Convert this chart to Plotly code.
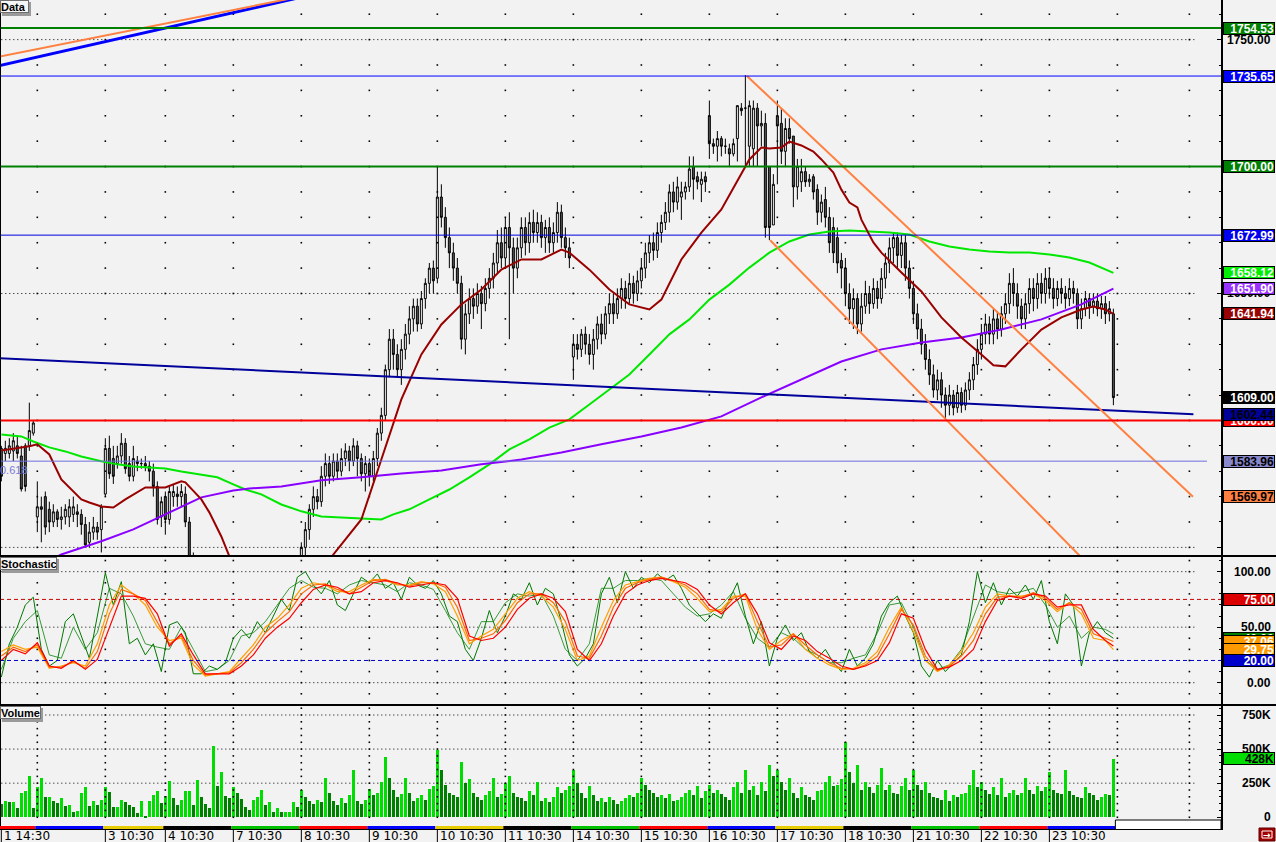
import plotly.graph_objects as go

W, H = 1276, 842
XD = 1221 / W
FONT = 'Liberation Sans, Arial, sans-serif'
BG = '#f2f2f2'

# ---------------- price data (one list per field, one row per trading day) ----------------
opens = [
    1589, 1587, 1587, 1588, 1590, 1586, 1590, 1590, 1595,
    1562, 1566, 1570, 1565, 1560, 1564, 1561, 1562, 1562, 1563, 1564, 1563, 1559, 1552, 1556, 1558, 1557,
    1571, 1589, 1585, 1583, 1586, 1591, 1583, 1578, 1584, 1583, 1583, 1582, 1580, 1574, 1562,
    1570, 1561, 1570, 1571, 1570, 1571, 1560, 1546, 1544, 1540, 1536, 1532, 1530, 1528, 1532, 1530, 1526,
    1524, 1528, 1530, 1534, 1532, 1536, 1530, 1528, 1532, 1536, 1540, 1538, 1534, 1530, 1534, 1538, 1540,
    1544, 1550, 1557, 1565, 1570, 1568, 1578, 1583, 1578, 1584, 1580, 1585, 1588, 1584, 1590, 1585, 1579,
    1583, 1578, 1585, 1595, 1602, 1620, 1632, 1626, 1620, 1628, 1634, 1640, 1645, 1638, 1648, 1654, 1660,
    1656, 1688, 1680, 1672, 1666, 1660, 1654, 1632, 1642, 1648, 1645, 1650, 1646, 1652, 1656, 1662, 1670,
    1664, 1676, 1668, 1660, 1668, 1676, 1670, 1678, 1674, 1678, 1672, 1676, 1670, 1674, 1682, 1672, 1668,
    1625, 1630, 1628, 1634, 1630, 1626, 1632, 1638, 1634, 1642, 1646, 1642, 1648, 1652, 1648, 1654, 1650,
    1655, 1660, 1666, 1670, 1667, 1674, 1678, 1682, 1690, 1686, 1688, 1690, 1692, 1700, 1696, 1693, 1696,
    1720, 1709, 1708, 1711, 1708, 1707, 1705, 1711, 1723, 1723, 1708, 1707, 1723, 1716, 1717, 1700, 1677,
    1720, 1717, 1706, 1715, 1712, 1692, 1694, 1698, 1694, 1696, 1691, 1682, 1687, 1680, 1676, 1672, 1663,
    1660, 1650, 1644, 1648, 1638, 1645, 1650, 1646, 1652, 1648, 1656, 1662, 1668, 1672, 1665, 1670, 1660,
    1652, 1642, 1636, 1630, 1624, 1618, 1612, 1616, 1610, 1606, 1610, 1605, 1611, 1606, 1612, 1616, 1622,
    1628, 1634, 1638, 1634, 1640, 1636, 1642, 1646, 1654, 1650, 1645, 1640, 1646, 1652, 1648, 1654, 1650,
    1656, 1652, 1648, 1652, 1650, 1648, 1652, 1650, 1640, 1644, 1648, 1645, 1647, 1644, 1646, 1642, 1642,
]
highs = [
    1590, 1592, 1593, 1595, 1594, 1590, 1591, 1607, 1600,
    1576, 1570, 1572, 1568, 1567, 1565, 1566, 1567, 1569, 1570, 1567, 1565, 1562, 1560, 1562, 1560, 1567,
    1593, 1594, 1590, 1590, 1595, 1593, 1586, 1590, 1586, 1585, 1586, 1584, 1583, 1576, 1570,
    1572, 1574, 1575, 1574, 1575, 1574, 1562, 1548, 1546, 1542, 1539, 1535, 1534, 1535, 1534, 1532, 1528,
    1531, 1533, 1537, 1536, 1539, 1538, 1532, 1535, 1539, 1543, 1542, 1540, 1536, 1537, 1540, 1543, 1546,
    1552, 1560, 1567, 1574, 1573, 1582, 1587, 1586, 1587, 1587, 1589, 1591, 1590, 1593, 1592, 1587, 1586,
    1585, 1588, 1597, 1605, 1622, 1636, 1636, 1630, 1632, 1638, 1645, 1648, 1648, 1651, 1656, 1662, 1663,
    1700, 1693, 1684, 1676, 1670, 1664, 1657, 1646, 1652, 1652, 1654, 1653, 1656, 1660, 1666, 1675, 1676,
    1680, 1682, 1672, 1672, 1680, 1680, 1682, 1683, 1682, 1681, 1679, 1680, 1678, 1686, 1685, 1676, 1672,
    1634, 1634, 1636, 1637, 1634, 1636, 1641, 1642, 1645, 1650, 1650, 1652, 1656, 1655, 1658, 1657, 1659,
    1664, 1670, 1673, 1674, 1678, 1681, 1686, 1693, 1694, 1696, 1694, 1694, 1704, 1704, 1698, 1698, 1698,
    1726, 1711, 1714, 1712, 1711, 1709, 1711, 1724, 1725, 1736, 1726, 1726, 1725, 1722, 1721, 1700, 1697,
    1726, 1723, 1719, 1719, 1712, 1703, 1703, 1700, 1697, 1697, 1693, 1689, 1692, 1684, 1680, 1676, 1666,
    1664, 1654, 1652, 1650, 1650, 1655, 1653, 1656, 1655, 1660, 1666, 1672, 1674, 1674, 1673, 1673, 1663,
    1655, 1646, 1640, 1634, 1628, 1622, 1620, 1619, 1613, 1614, 1612, 1614, 1613, 1615, 1619, 1625, 1632,
    1638, 1642, 1641, 1644, 1643, 1645, 1650, 1658, 1660, 1654, 1648, 1650, 1656, 1656, 1658, 1658, 1660,
    1660, 1656, 1655, 1656, 1653, 1656, 1655, 1652, 1648, 1651, 1650, 1650, 1650, 1649, 1649, 1647, 1644,
]
lows = [
    1576, 1584, 1585, 1584, 1585, 1572, 1572, 1588, 1594,
    1556, 1552, 1555, 1556, 1558, 1558, 1557, 1559, 1558, 1560, 1558, 1555, 1550, 1550, 1553, 1553, 1548,
    1570, 1577, 1575, 1581, 1583, 1579, 1576, 1576, 1580, 1581, 1580, 1576, 1570, 1559, 1558,
    1555, 1559, 1566, 1566, 1566, 1558, 1540, 1538, 1536, 1533, 1529, 1527, 1522, 1525, 1527, 1523, 1520,
    1522, 1525, 1528, 1529, 1530, 1528, 1525, 1526, 1530, 1534, 1535, 1532, 1528, 1528, 1532, 1536, 1538,
    1540, 1542, 1553, 1562, 1565, 1566, 1574, 1575, 1576, 1577, 1578, 1582, 1580, 1582, 1578, 1576, 1572,
    1574, 1576, 1582, 1592, 1600, 1617, 1620, 1617, 1614, 1624, 1630, 1635, 1635, 1636, 1644, 1650, 1650,
    1654, 1676, 1668, 1660, 1655, 1650, 1628, 1626, 1638, 1640, 1642, 1636, 1643, 1648, 1652, 1658, 1660,
    1660, 1632, 1650, 1656, 1664, 1665, 1666, 1670, 1670, 1668, 1666, 1666, 1666, 1670, 1668, 1664, 1660,
    1616, 1624, 1625, 1626, 1622, 1620, 1628, 1630, 1632, 1638, 1638, 1640, 1644, 1644, 1646, 1646, 1647,
    1652, 1656, 1662, 1663, 1664, 1670, 1675, 1678, 1682, 1683, 1679, 1687, 1690, 1687, 1691, 1686, 1690,
    1703, 1705, 1702, 1704, 1705, 1700, 1704, 1702, 1720, 1700, 1700, 1700, 1700, 1708, 1672, 1671, 1677,
    1693, 1701, 1700, 1709, 1684, 1687, 1690, 1692, 1692, 1687, 1677, 1678, 1676, 1666, 1662, 1658, 1652,
    1645, 1638, 1636, 1634, 1635, 1642, 1642, 1644, 1644, 1646, 1652, 1658, 1662, 1660, 1660, 1655, 1648,
    1638, 1632, 1626, 1620, 1614, 1609, 1608, 1605, 1601, 1602, 1602, 1603, 1603, 1604, 1608, 1612, 1618,
    1624, 1630, 1630, 1630, 1632, 1633, 1638, 1642, 1645, 1640, 1636, 1636, 1642, 1643, 1644, 1646, 1646,
    1648, 1644, 1645, 1646, 1644, 1645, 1646, 1636, 1636, 1641, 1640, 1642, 1641, 1640, 1638, 1639, 1606,
]
closes = [
    1578, 1589, 1590, 1592, 1587, 1573, 1574, 1596, 1599,
    1566, 1565, 1558, 1560, 1564, 1561, 1562, 1565, 1566, 1566, 1563, 1559, 1551, 1556, 1558, 1556, 1566,
    1589, 1579, 1578, 1586, 1591, 1581, 1578, 1585, 1583, 1583, 1582, 1580, 1574, 1561, 1568,
    1561, 1572, 1572, 1570, 1572, 1560, 1546, 1544, 1540, 1536, 1532, 1530, 1528, 1532, 1530, 1526, 1524,
    1528, 1530, 1534, 1532, 1536, 1530, 1528, 1532, 1536, 1540, 1538, 1534, 1530, 1534, 1538, 1540, 1544,
    1550, 1557, 1565, 1570, 1568, 1578, 1583, 1578, 1584, 1580, 1585, 1588, 1584, 1590, 1585, 1579, 1583,
    1578, 1585, 1595, 1602, 1620, 1632, 1626, 1620, 1628, 1634, 1640, 1645, 1638, 1648, 1654, 1660, 1655,
    1688, 1680, 1672, 1666, 1660, 1654, 1632, 1642, 1648, 1645, 1650, 1646, 1652, 1656, 1662, 1670, 1664,
    1676, 1668, 1660, 1668, 1676, 1670, 1678, 1674, 1678, 1672, 1676, 1670, 1674, 1682, 1672, 1668, 1664,
    1630, 1628, 1634, 1630, 1626, 1632, 1638, 1634, 1642, 1646, 1642, 1648, 1652, 1648, 1654, 1650, 1655,
    1660, 1666, 1670, 1667, 1674, 1678, 1682, 1690, 1686, 1692, 1690, 1692, 1699, 1695, 1694, 1695, 1694,
    1709, 1708, 1711, 1708, 1708, 1705, 1709, 1724, 1722, 1723, 1724, 1723, 1716, 1717, 1676, 1676, 1693,
    1716, 1706, 1715, 1711, 1692, 1700, 1698, 1694, 1695, 1690, 1682, 1686, 1680, 1670, 1666, 1662, 1660,
    1650, 1644, 1648, 1638, 1645, 1650, 1646, 1652, 1648, 1656, 1662, 1668, 1672, 1665, 1670, 1660, 1652,
    1642, 1636, 1630, 1624, 1618, 1612, 1616, 1610, 1606, 1610, 1605, 1611, 1606, 1612, 1616, 1622, 1628,
    1634, 1638, 1634, 1640, 1636, 1642, 1646, 1654, 1650, 1645, 1640, 1646, 1652, 1648, 1654, 1650, 1656,
    1652, 1648, 1652, 1650, 1648, 1652, 1650, 1640, 1644, 1648, 1645, 1647, 1644, 1646, 1642, 1644, 1609,
]
volumes_k = [
    98, 118, 110, 115, 66, 176, 196, 306, 66,
    220, 287, 152, 152, 122, 103, 140, 81, 88, 37, 49, 176, 220, 86, 118, 88, 130,
    220, 184, 74, 74, 130, 110, 91, 74, 29, 118, 7, 122, 167, 196, 103,
    154, 265, 140, 93, 130, 196, 196, 93, 270, 147, 98, 69, 522, 233, 331, 159, 140,
    225, 176, 135, 78, 56, 130, 152, 203, 93, 110, 42, 66, 37, 42, 42, 115, 78,
    200, 150, 120, 95, 130, 110, 287, 180, 120, 90, 140, 105, 160, 345, 120, 95, 130,
    210, 160, 180, 260, 441, 287, 200, 150, 170, 287, 180, 120, 140, 160, 130, 210, 230,
    493, 345, 240, 180, 160, 150, 404, 250, 280, 180, 150, 130, 160, 190, 287, 150, 170,
    250, 300, 180, 150, 140, 120, 190, 160, 260, 120, 140, 110, 150, 220, 180, 200, 230,
    345, 250, 180, 140, 230, 160, 120, 140, 110, 150, 130, 100, 120, 140, 160, 150, 180,
    287, 240, 200, 180, 150, 160, 140, 170, 120, 130, 150, 180, 200, 160, 230, 140, 190,
    240, 180, 200, 170, 150, 130, 220, 260, 180, 345, 200, 230, 160, 260, 190, 382, 300,
    345, 260, 200, 287, 180, 140, 220, 160, 150, 130, 190, 200, 260, 300, 230, 240, 280,
    551, 330, 250, 382, 200, 260, 220, 180, 240, 360, 200, 240, 180, 170, 230, 287, 200,
    345, 240, 200, 260, 180, 150, 140, 130, 200, 120, 160, 150, 170, 180, 240, 345, 220,
    260, 200, 170, 220, 160, 287, 150, 180, 200, 160, 180, 287, 200, 170, 230, 190, 220,
    330, 200, 180, 170, 345, 190, 160, 150, 140, 220, 180, 160, 130, 150, 170, 160, 428,
]

# session starts (bar index) and their axis labels
day_start = [0, 9, 26, 41, 58, 75, 92, 109, 126, 143, 160, 177, 194, 211, 228, 245, 262]
day_labels = ['1 14:30', '', '3 10:30', '4 10:30', '7 10:30', '8 10:30', '9 10:30', '10 10:30',
              '11 10:30', '14 10:30', '15 10:30', '16 10:30', '17 10:30', '18 10:30', '21 10:30',
              '22 10:30', '23 10:30']
grid_cols = [9, 26, 41, 58, 75, 92, 109, 126, 143, 160, 177, 194, 211, 228, 245, 262, 279, 297]

# moving averages (bar index, value)
ma_red_idx = [0, 7, 9, 12, 15, 20, 22, 25, 28, 31, 36, 41, 45, 46, 50, 52, 55, 57, 60, 65,
              72, 78, 83, 90, 95, 100, 105, 110, 115, 120, 125, 130, 135, 140, 142, 147, 152, 157, 162, 165,
              170, 175, 180, 185, 187, 190, 192, 195, 197, 200, 203, 205, 208, 210, 212, 214, 215, 218, 220, 225,
              230, 235, 240, 245, 248, 251, 255, 260, 265, 270, 273, 276, 278]
ma_red_val = [1588.2, 1589.8, 1590.6, 1586.6, 1576.8, 1568.9, 1567.7, 1566.1, 1565.7, 1568.9,
              1573.6, 1573.6, 1576.0, 1575.6, 1568.9, 1563.8, 1554.3, 1546.5, 1537, 1530,
              1527, 1533, 1547.2, 1561, 1584.6, 1608.3, 1626, 1637.8, 1645.7, 1651.6,
              1659.4, 1663.4, 1663.4, 1667.3, 1666.1, 1659.4, 1651.6, 1645.7, 1643.7, 1647.6,
              1663.4, 1674.0, 1683.1, 1697.6, 1702.8, 1707.5, 1707.1, 1707.5, 1709.8, 1708.3,
              1705.9, 1702.8, 1697.6, 1690.9, 1685.8, 1683.9, 1679.1, 1670.1, 1666.1, 1658.3,
              1650.8, 1640.6, 1632.7, 1626, 1621.7, 1621.3, 1628, 1635.8, 1640.6, 1643.7,
              1644.9, 1643.7, 1641.94]
ma_green_idx = [0, 5, 8, 12, 16, 20, 25, 29, 33, 37, 41, 45, 50, 54, 58, 61, 65, 70, 75, 80,
                85, 90, 95, 98, 102, 107, 112, 117, 122, 127, 132, 137, 142, 147, 152, 157, 162, 167, 172, 177,
                182, 187, 192, 197, 202, 207, 212, 217, 222, 227, 232, 237, 242, 247, 252, 257, 262, 267, 272, 278]
ma_green_val = [1594.5, 1593.7, 1591.7, 1589.4, 1587.8, 1585.8, 1583.9, 1582.7, 1581.9, 1581.5,
                1581.1, 1579.9, 1578.7, 1577.6, 1574.8, 1572.8, 1570.9, 1566.9, 1564.2, 1562.2,
                1561.8, 1561.4, 1561, 1563, 1565, 1568.9, 1572.8, 1577.6, 1582.7, 1588.6,
                1592.5, 1597.2, 1600.4, 1606.3, 1612.2, 1618.1, 1626, 1633.9, 1639.8, 1647.6,
                1653.5, 1660.2, 1666.1, 1670.5, 1673.2, 1674.4, 1674.8, 1674.4, 1674.0, 1673.2,
                1670.5, 1668.5, 1667.3, 1666.5, 1666.1, 1666.1, 1665.4, 1664.2, 1662.2, 1658.12]
ma_purple_idx = [10, 15, 25, 33, 41, 50, 58, 62, 70, 80, 90, 100, 110, 120, 130, 140, 150, 160, 170, 180,
                 190, 200, 210, 220, 230, 240, 250, 260, 270, 278]
ma_purple_val = [1543.3, 1547.2, 1552.4, 1557.1, 1563, 1569.7, 1572.4, 1573.2, 1574, 1576.4,
                 1577.6, 1579.1, 1580.3, 1582.7, 1584.6, 1587.4, 1590.6, 1593.7, 1597.2, 1601.6,
                 1609.1, 1616.1, 1623.2, 1628, 1630.7, 1632.7, 1635.8, 1639.8, 1645.7, 1651.90]

# drawn trend lines: (bar index pair, price pair)
tl_base_idx, tl_base_val = [-1, 298], [1624.5, 1602.44]
tl_chan_hi_idx, tl_chan_hi_val = [186.4, 297.9], [1735.65, 1569.97]
tl_chan_lo_idx, tl_chan_lo_val = [192.2, 272], [1671.0, 1542.8]
tl_old_blue_idx, tl_old_blue_val = [-1, 80], [1739.55, 1768.5]
tl_old_orange_idx, tl_old_orange_val = [-1, 80], [1743.1, 1768.6]
fib_level = 1583.96
h_levels = [1754.53, 1735.65, 1700.00, 1672.99, 1600.00]

# stochastic (sampled)
stoch_fast = [5, 35, 50, 70, 77, 30, 15, 20, 55, 62,
              42, 22, 60, 99, 70, 91, 35, 40, 25, 35,
              10, 52, 55, 45, 8, 8, 15, 12, 18, 40,
              48, 40, 55, 45, 60, 75, 65, 95, 100, 88,
              80, 92, 70, 65, 80, 95, 90, 98, 85, 90,
              75, 95, 88, 85, 92, 80, 60, 55, 30, 20,
              40, 65, 45, 60, 80, 75, 90, 70, 85, 80,
              55, 25, 15, 22, 35, 80, 95, 72, 100, 85,
              95, 90, 98, 92, 97, 85, 70, 62, 55, 62,
              58, 75, 90, 60, 35, 55, 15, 40, 52, 38,
              45, 28, 22, 30, 18, 10, 30, 15, 22, 35,
              60, 72, 78, 60, 45, 15, 5, 20, 10, 18,
              25, 55, 100, 72, 90, 70, 85, 78, 88, 75,
              92, 55, 35, 80, 70, 15, 45, 55, 45, 40]
stoch_green2 = [12, 40, 55, 65, 25, 22, 50, 30, 45, 85, 80, 60, 35, 32, 30, 50, 30, 10, 12, 20,
                42, 45, 55, 70, 85, 92, 86, 85, 80, 88, 92, 90, 88, 82, 90, 88, 84, 65, 45, 30,
                55, 55, 72, 80, 78, 80, 60, 30, 20, 35, 85, 85, 92, 92, 94, 92, 80, 68, 60, 62,
                70, 82, 58, 40, 32, 45, 40, 30, 25, 18, 18, 22, 25, 45, 70, 72, 50, 20, 12, 16,
                30, 60, 88, 82, 80, 82, 85, 70, 50, 60, 40, 50, 48, 44]
stoch_red = [20, 30, 26, 36, 15, 13, 20, 12, 21, 50, 78, 78, 76, 62, 33, 44, 25, 8, 8, 8,
             15, 25, 40, 50, 58, 72, 84, 88, 86, 80, 82, 90, 92, 90, 86, 88, 90, 88, 76, 42,
             38, 40, 50, 66, 76, 80, 76, 64, 30, 20, 35, 60, 80, 88, 92, 94, 92, 90, 84, 70,
             62, 72, 80, 62, 36, 30, 42, 38, 28, 22, 15, 12, 15, 20, 36, 62, 58, 30, 12, 14,
             20, 30, 55, 74, 78, 76, 80, 78, 68, 70, 70, 48, 38, 33]
stoch_orange = [24, 32, 28, 34, 14, 14, 19, 13, 28, 62, 84, 80, 74, 55, 35, 42, 20, 7, 8, 9,
                18, 30, 45, 55, 64, 80, 88, 89, 84, 80, 86, 92, 93, 89, 87, 90, 90, 86, 68, 38,
                40, 44, 56, 72, 80, 80, 72, 55, 24, 22, 42, 68, 85, 90, 93, 95, 92, 88, 80, 66,
                64, 76, 80, 55, 32, 34, 44, 34, 25, 18, 13, 12, 16, 24, 44, 66, 52, 24, 11, 15,
                24, 38, 62, 77, 78, 77, 81, 76, 66, 72, 66, 44, 40, 37.06]
stoch_gold = [28, 34, 30, 32, 13, 15, 18, 15, 35, 70, 88, 80, 70, 50, 38, 40, 16, 6, 8, 10,
              22, 34, 50, 58, 70, 85, 90, 88, 82, 82, 88, 93, 92, 88, 88, 91, 89, 82, 60, 35,
              42, 48, 62, 76, 82, 78, 68, 48, 20, 24, 50, 74, 88, 91, 94, 95, 91, 86, 76, 64,
              66, 78, 78, 48, 30, 38, 44, 30, 22, 16, 12, 13, 18, 28, 50, 68, 46, 20, 10, 16,
              28, 45, 68, 80, 78, 78, 80, 74, 64, 72, 62, 40, 38, 29.75]
stoch_levels = [75, 20]

N = len(closes)
bars = list(range(N))
fast_idx = list(range(0, N, 2))
slow_idx = list(range(0, N - 2, 3)) + [N - 1]

XR = [-0.33, 304.9]
PR = [1547.0, 1765.6]
SR = [-19.2, 113.2]
VR = [-64, 816]


def yp(px):
    return 1 - px / H


def xp(px):
    return px / W


fig = go.Figure()

# ---- dot grid columns ----
def dot_grid(levels, xa, ya):
    xs, ys = [], []
    for c in grid_cols:
        for lv in levels:
            xs.append(c)
            ys.append(lv)
    return go.Scatter(x=xs, y=ys, mode='markers', xaxis=xa, yaxis=ya, hoverinfo='skip',
                      marker=dict(symbol='square', size=1.6, color='black', line=dict(width=0)))


fig.add_trace(dot_grid(list(range(1550, 1770, 10)), 'x', 'y'))
fig.add_trace(dot_grid(list(range(-10, 111, 10)), 'x2', 'y2'))
fig.add_trace(dot_grid(list(range(0, 801, 50)), 'x3', 'y3'))

# ---- candles ----
fig.add_trace(go.Candlestick(
    x=bars, open=opens, high=highs, low=lows, close=closes, xaxis='x', yaxis='y',
    whiskerwidth=0,
    increasing=dict(line=dict(color='black', width=1), fillcolor='white'),
    decreasing=dict(line=dict(color='black', width=1), fillcolor='#585858'),
))

# ---- moving averages ----
fig.add_trace(go.Scatter(x=ma_green_idx, y=ma_green_val, mode='lines', xaxis='x', yaxis='y',
                         line=dict(color='#00e800', width=2)))
fig.add_trace(go.Scatter(x=ma_purple_idx, y=ma_purple_val, mode='lines', xaxis='x', yaxis='y',
                         line=dict(color='#8a00ff', width=2)))
fig.add_trace(go.Scatter(x=ma_red_idx, y=ma_red_val, mode='lines', xaxis='x', yaxis='y',
                         line=dict(color='#990000', width=2)))

# ---- trend lines ----
for xs, ys, col, wd in [
    (tl_base_idx, tl_base_val, '#00009a', 2),
    (tl_chan_hi_idx, tl_chan_hi_val, '#ff8040', 2),
    (tl_chan_lo_idx, tl_chan_lo_val, '#ff8040', 2),
    (tl_old_blue_idx, tl_old_blue_val, '#0000ff', 3),
    (tl_old_orange_idx, tl_old_orange_val, '#ff8040', 2),
]:
    fig.add_trace(go.Scatter(x=xs, y=ys, mode='lines', xaxis='x', yaxis='y',
                             line=dict(color=col, width=wd)))

# ---- stochastic ----
fig.add_trace(go.Scatter(x=slow_idx, y=stoch_green2, mode='lines', xaxis='x2', yaxis='y2',
                         line=dict(color='#3a9a3a', width=1)))
fig.add_trace(go.Scatter(x=fast_idx, y=stoch_fast, mode='lines', xaxis='x2', yaxis='y2',
                         line=dict(color='#007800', width=1)))
fig.add_trace(go.Scatter(x=slow_idx, y=stoch_gold, mode='lines', xaxis='x2', yaxis='y2',
                         line=dict(color='#ffa000', width=1.2)))
fig.add_trace(go.Scatter(x=slow_idx, y=stoch_orange, mode='lines', xaxis='x2', yaxis='y2',
                         line=dict(color='#ff6a00', width=1.2)))
fig.add_trace(go.Scatter(x=slow_idx, y=stoch_red, mode='lines', xaxis='x2', yaxis='y2',
                         line=dict(color='#ff0000', width=1.2)))

# ---- volume ----
vol_colors = ['#008000' if i == 0 or volumes_k[i] < volumes_k[i - 1] else '#00dd00' for i in bars]
fig.add_trace(go.Bar(x=bars, y=volumes_k, width=0.72, xaxis='x3', yaxis='y3',
                     marker=dict(color=vol_colors, line=dict(width=0))))

shapes = []
DOT = '1px,3px'
# dotted level lines
for lv in [1550, 1600, 1650, 1700, 1750]:
    shapes.append(dict(type='line', xref='x', yref='y', x0=-1, x1=298.4, y0=lv, y1=lv,
                       line=dict(color='black', width=1, dash=DOT), layer='below'))
for lv in [0, 50, 100]:
    shapes.append(dict(type='line', xref='x2', yref='y2', x0=-1, x1=298.4, y0=lv, y1=lv,
                       line=dict(color='black', width=1, dash=DOT), layer='below'))
for lv in [250, 500, 750]:
    shapes.append(dict(type='line', xref='x3', yref='y3', x0=-1, x1=298.4, y0=lv, y1=lv,
                       line=dict(color='black', width=1, dash=DOT), layer='below'))

# horizontal price levels
hl_style = ['#008000', '#0000ff', '#008000', '#0000dd', '#ff0000']
hl_width = [2, 1, 2, 1, 2]
for lv, c, wd in zip(h_levels, hl_style, hl_width):
    shapes.append(dict(type='line', xref='x domain', yref='y', x0=0, x1=1, y0=lv, y1=lv,
                       line=dict(color=c, width=wd)))
shapes.append(dict(type='line', xref='x', yref='y', x0=-1, x1=301.4, y0=fib_level, y1=fib_level,
                   line=dict(color='#7070dd', width=1)))
# stochastic levels
shapes.append(dict(type='line', xref='x2 domain', yref='y2', x0=0, x1=1, y0=stoch_levels[0], y1=stoch_levels[0],
                   line=dict(color='#cc0000', width=1, dash='4px,3px')))
shapes.append(dict(type='line', xref='x2 domain', yref='y2', x0=0, x1=1, y0=stoch_levels[1], y1=stoch_levels[1],
                   line=dict(color='#0000cc', width=1, dash='4px,3px')))

# panel frames
shapes += [
    dict(type='line', xref='paper', yref='paper', x0=0, x1=1, y0=yp(556), y1=yp(556), line=dict(color='black', width=2)),
    dict(type='line', xref='paper', yref='paper', x0=0, x1=1, y0=yp(705), y1=yp(705), line=dict(color='black', width=2)),
    dict(type='line', xref='paper', yref='paper', x0=0, x1=xp(1222), y0=yp(829.5), y1=yp(829.5), line=dict(color='black', width=1)),
    dict(type='line', xref='paper', yref='paper', x0=xp(1222), x1=xp(1222), y0=yp(830), y1=1, line=dict(color='black', width=2)),
    dict(type='line', xref='paper', yref='paper', x0=xp(0.5), x1=xp(0.5), y0=yp(830), y1=1, line=dict(color='black', width=1)),
]
# session colour strip
strip_cols = ['#ff0000', '#0000ff', '#e6cc00', '#000000', '#00c000']
for k, s in enumerate(day_start):
    e = day_start[k + 1] if k + 1 < len(day_start) else N
    shapes.append(dict(type='rect', xref='x3', yref='paper', x0=s - 0.5, x1=e - 0.5,
                       y0=yp(829), y1=yp(826), fillcolor=strip_cols[k % 5], line=dict(width=0)))
shapes.append(dict(type='rect', xref='x3', yref='paper', x0=N - 0.5, x1=XR[1], y0=yp(829.5), y1=yp(820),
                   fillcolor='white', line=dict(color='black', width=1)))
# x ticks
for s, lab in zip(day_start, day_labels):
    if lab:
        shapes.append(dict(type='line', xref='x3', yref='paper', x0=s, x1=s, y0=0, y1=yp(830),
                           line=dict(color='black', width=1)))
# title box shadows
for (x1, y0, y1) in [(31, 1, 15), (59, 558, 572), (43, 707, 721)]:
    shapes.append(dict(type='rect', xref='paper', yref='paper', x0=xp(2), x1=xp(x1), y0=yp(y1 + 1), y1=yp(y0 + 1),
                       fillcolor='#9a9a9a', line=dict(width=0)))
# corner icon
shapes.append(dict(type='rect', xref='paper', yref='paper', x0=xp(1259), x1=xp(1275), y0=yp(841), y1=yp(828),
                   fillcolor='#a00000', line=dict(color='#600000', width=1)))
shapes.append(dict(type='rect', xref='paper', yref='paper', x0=xp(1262), x1=xp(1272), y0=yp(838), y1=yp(831),
                   fillcolor='rgba(0,0,0,0)', line=dict(color='white', width=1)))

ann = []


def tick_label(val, yref, text):
    ann.append(dict(xref='paper', x=xp(1273), xanchor='right', yref=yref, y=val, yanchor='middle',
                    text='<b>%s</b>' % text, showarrow=False, font=dict(family=FONT, size=12, color='black')))


def tag(val, yref, bg, fg, text):
    ann.append(dict(xref='paper', x=xp(1222.5), xanchor='left', yref=yref, y=val, yanchor='middle',
                    text='<b>%s</b>' % text, showarrow=False, bgcolor=bg, bordercolor='black',
                    borderwidth=1, borderpad=0, width=50, height=11, align='right',
                    font=dict(family=FONT, size=12, color=fg)))


for v in [1750, 1700, 1650, 1600]:
    tick_label(v, 'y', '%.2f' % v)
for v in [100, 50, 0]:
    tick_label(v, 'y2', '%.2f' % v)
for v, t in [(750, '750K'), (500, '500K'), (250, '250K'), (0, '0')]:
    tick_label(v, 'y3', t)

tag(h_levels[0], 'y', '#008000', 'white', '%.2f' % h_levels[0])
tag(h_levels[1], 'y', '#0000ff', 'white', '%.2f' % h_levels[1])
tag(h_levels[2], 'y', '#008000', 'white', '%.2f' % h_levels[2])
tag(h_levels[3], 'y', '#0000ee', 'white', '%.2f' % h_levels[3])
tag(ma_green_val[-1], 'y', '#00ee00', 'white', '%.2f' % ma_green_val[-1])
tag(ma_purple_val[-1], 'y', '#9933ff', 'white', '%.2f' % ma_purple_val[-1])
tag(ma_red_val[-1], 'y', '#990000', 'white', '%.2f' % ma_red_val[-1])
tag(closes[-1], 'y', '#000000', 'white', '%.2f' % closes[-1])
tag(h_levels[4], 'y', '#ff0000', 'white', '%.2f' % h_levels[4])
tag(tl_base_val[-1], 'y', '#00009a', 'black', '%.2f' % tl_base_val[-1])
tag(fib_level, 'y', '#8888cc', 'black', '%.2f' % fib_level)
tag(tl_chan_hi_val[-1], 'y', '#ff8040', 'black', '%.2f' % tl_chan_hi_val[-1])

tag(stoch_levels[0], 'y2', '#dd0000', 'white', '%.2f' % stoch_levels[0])
tag(stoch_fast[-1], 'y2', '#008000', 'white', '%.2f' % stoch_fast[-1])
tag(stoch_orange[-1], 'y2', '#ff9900', 'white', '%.2f' % stoch_orange[-1])
tag(stoch_gold[-1], 'y2', '#ff9900', 'white', '%.2f' % stoch_gold[-1])
tag(stoch_levels[1], 'y2', '#0000cc', 'white', '%.2f' % stoch_levels[1])

tag(volumes_k[-1], 'y3', '#00dd00', 'black', '%dK' % volumes_k[-1])

# panel titles
for text, top, wd in [('Data', 0, 27), ('Stochastic', 557, 55), ('Volume', 706, 39)]:
    ann.append(dict(xref='paper', x=0, xanchor='left', yref='paper', y=yp(top), yanchor='top',
                    text='<b>%s</b>' % text, showarrow=False, bgcolor='#f6f6f6', bordercolor='#6e6e6e',
                    borderwidth=1, borderpad=0, width=wd, height=11, align='left',
                    font=dict(family=FONT, size=11, color='black')))

ann.append(dict(xref='paper', x=xp(-2), xanchor='left', yref='y', y=fib_level, yanchor='top', yshift=-1,
                text='0.618', showarrow=False, font=dict(family=FONT, size=11, color='#7b7bd6')))

# time labels
for s, lab in zip(day_start, day_labels):
    if lab:
        ann.append(dict(xref='x3', x=s, xanchor='left', xshift=1, yref='paper', y=yp(835.5), yanchor='middle',
                        text=lab, showarrow=False, font=dict(family='DejaVu Sans', size=12, color='black')))
ann.append(dict(xref='paper', x=xp(1267), xanchor='center', yref='paper', y=yp(834.5), yanchor='middle',
                text='<b>→</b>', showarrow=False, font=dict(family='DejaVu Sans', size=9, color='white')))

axis_common = dict(domain=[0, XD], range=XR, visible=False, fixedrange=True)
fig.update_layout(
    width=W, height=H, margin=dict(l=0, r=0, t=0, b=0),
    paper_bgcolor=BG, plot_bgcolor=BG, showlegend=False, hovermode=False,
    bargap=0,
    xaxis=dict(anchor='y', rangeslider=dict(visible=False), **axis_common),
    xaxis2=dict(anchor='y2', **axis_common),
    xaxis3=dict(anchor='y3', **axis_common),
    yaxis=dict(domain=[yp(555), 1], range=PR, side='right', anchor='x', showgrid=False, zeroline=False,
               showticklabels=False, ticks='inside', ticklen=4, tickcolor='black', dtick=50, tick0=0,
               fixedrange=True,
               minor=dict(dtick=10, tick0=0, ticks='inside', ticklen=2, tickcolor='black', showgrid=False)),
    yaxis2=dict(domain=[yp(704), yp(557)], range=SR, side='right', anchor='x2', showgrid=False, zeroline=False,
                showticklabels=False, ticks='inside', ticklen=4, tickcolor='black', dtick=50, tick0=0,
                fixedrange=True,
                minor=dict(dtick=10, tick0=0, ticks='inside', ticklen=2, tickcolor='black', showgrid=False)),
    yaxis3=dict(domain=[yp(826), yp(706)], range=VR, side='right', anchor='x3', showgrid=False, zeroline=False,
                showticklabels=False, ticks='inside', ticklen=4, tickcolor='black', dtick=250, tick0=0,
                fixedrange=True,
                minor=dict(dtick=50, tick0=0, ticks='inside', ticklen=2, tickcolor='black', showgrid=False)),
    shapes=shapes,
    annotations=ann,
)

fig.write_html('out.html', config={'displayModeBar': False},
               post_script="document.body.style.margin='0px';document.body.style.overflow='hidden';")
